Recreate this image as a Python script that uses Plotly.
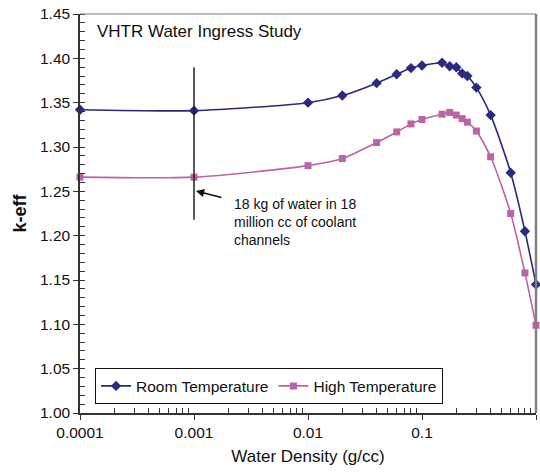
import plotly.graph_objects as go

# Water density in coolant channels (g/cc)
density = [0.0001, 0.001, 0.01, 0.02, 0.04, 0.06, 0.08, 0.1, 0.15, 0.175,
           0.2, 0.225, 0.25, 0.3, 0.4, 0.6, 0.8, 1.0]

# k-eff results
room_temp = [1.342, 1.341, 1.350, 1.358, 1.372, 1.382, 1.389, 1.392, 1.395, 1.391,
             1.390, 1.383, 1.380, 1.367, 1.336, 1.271, 1.205, 1.145]
high_temp = [1.266, 1.266, 1.279, 1.287, 1.305, 1.317, 1.326, 1.331, 1.337, 1.339,
             1.336, 1.332, 1.328, 1.318, 1.289, 1.225, 1.158, 1.099]

# Marker line at 18 kg of water (0.001 g/cc)
marker_x = [0.001, 0.001]
marker_y = [1.390, 1.218]

x_ticks = [0.0001, 0.001, 0.01, 0.1, 1]
x_tick_text = ["0.0001", "0.001", "0.01", "0.1", "1"]
x_minor = [m * 10 ** e for e in range(-4, 0) for m in range(2, 10)]

FONT = "Liberation Sans, Arial, sans-serif"
NAVY = "#2b2a7c"
PINK = "#bb63a5"

fig = go.Figure()

fig.add_trace(go.Scatter(
    x=density, y=room_temp, name="Room Temperature", mode="lines+markers",
    line=dict(color=NAVY, width=1.6, shape="spline", smoothing=0.7),
    marker=dict(symbol="diamond", size=8, color=NAVY),
    cliponaxis=False,
))
fig.add_trace(go.Scatter(
    x=density, y=high_temp, name="High Temperature", mode="lines+markers",
    line=dict(color=PINK, width=1.6, shape="spline", smoothing=0.7),
    marker=dict(symbol="square", size=7, color=PINK),
    cliponaxis=False,
))
fig.add_trace(go.Scatter(
    x=marker_x, y=marker_y, mode="lines", showlegend=False, hoverinfo="skip",
    line=dict(color="#222222", width=1.5),
))

# Arrow pointing at the marker line
fig.add_annotation(
    x=-2.983, y=1.2504, xref="x", yref="y", text="", showarrow=True,
    ax=27, ay=7, arrowhead=2, arrowsize=1.1, arrowwidth=1.5, arrowcolor="#111111",
)
fig.add_annotation(
    x=-2.667, y=1.247, xref="x", yref="y", xanchor="left", yanchor="top",
    align="left", showarrow=False,
    text="18 kg of water in 18<br>million cc of coolant<br>channels",
    font=dict(family=FONT, size=14, color="#111111"),
)
fig.add_annotation(
    x=0.033, y=0.957, xref="paper", yref="paper", xanchor="left", yanchor="middle",
    showarrow=False, text="VHTR Water Ingress Study",
    font=dict(family=FONT, size=17, color="#111111"),
)

# Top and right frame lines
fig.add_shape(type="line", xref="paper", yref="paper", x0=0, x1=1, y0=1, y1=1,
              line=dict(color="#7a7a7a", width=1.2))
fig.add_shape(type="line", xref="paper", yref="paper", x0=1, x1=1, y0=0, y1=1,
              line=dict(color="#808080", width=2.5))

fig.update_layout(
    width=540, height=472,
    margin=dict(l=80, r=4, t=14, b=59),
    paper_bgcolor="white", plot_bgcolor="white",
    font=dict(family=FONT, size=15, color="#111111"),
    showlegend=True,
    legend=dict(
        orientation="h", x=0.033, y=0.112, xanchor="left", yanchor="top",
        bgcolor="white", bordercolor="#111111", borderwidth=1,
        font=dict(family=FONT, size=15.5), itemwidth=30,
        tracegroupgap=0,
    ),
    xaxis=dict(
        type="log", range=[-4, 0],
        tickmode="array", tickvals=x_ticks, ticktext=x_tick_text,
        ticks="outside", ticklen=5, tickcolor="#333333", tickwidth=1,
        showline=True, linecolor="#333333", linewidth=1.5,
        showgrid=False, zeroline=False,
        tickfont=dict(family=FONT, size=15.5),
        minor=dict(tickmode="array", tickvals=x_minor, ticks="inside",
                   ticklen=5, tickcolor="#333333", showgrid=False),
        title=dict(text="Water Density (g/cc)", standoff=10,
                   font=dict(family=FONT, size=17)),
    ),
    yaxis=dict(
        range=[1.0, 1.45], dtick=0.05, tick0=1.0, tickformat=".2f",
        ticks="outside", ticklen=5, tickcolor="#333333", tickwidth=1,
        showline=True, linecolor="#333333", linewidth=1.5,
        showgrid=False, zeroline=False,
        tickfont=dict(family=FONT, size=15.5),
        minor=dict(dtick=0.01, ticks="inside", ticklen=5,
                   tickcolor="#333333", showgrid=False),
        title=dict(text="<b>k-eff</b>", standoff=9,
                   font=dict(family=FONT, size=18)),
    ),
)

fig.write_html("out.html")
